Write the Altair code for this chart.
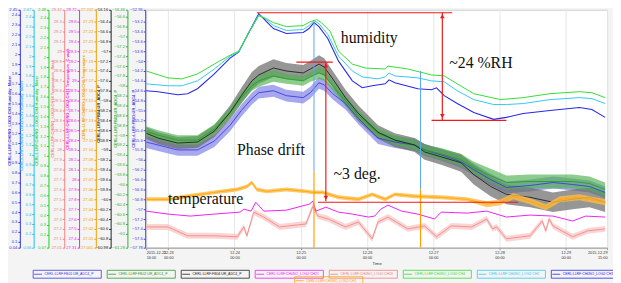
import math
import altair as alt
import pandas as pd

# ---------------- time frame ----------------
START = pd.Timestamp("2015-12-22T16:00:00Z")
END = pd.Timestamp("2015-12-29T15:00:00Z")
DAY_TICKS = ["2015-12-23", "2015-12-24", "2015-12-25", "2015-12-26",
             "2015-12-27", "2015-12-28", "2015-12-29"]

# ---------------- humidity (hours since start, value) ----------------
hum_blue_h = [0, 4.3, 11.4, 15, 18.6, 24.7, 30.4, 33.5, 37, 40.8, 43.6, 46.1, 50.8, 56.9, 59, 60.8, 62.6,
              65.8, 69.7, 74.7, 78.3, 81.9, 86.6, 88, 90.1, 98.4, 103.4, 105.2, 108, 112.7, 118.7, 125.9,
              130.5, 136.6, 146.3, 157, 161.5, 166.3]
hum_blue_v = [1.63, 1.62, 1.59, 1.60, 1.65, 1.80, 1.96, 2.02, 2.21, 2.41, 2.33, 2.26, 2.21, 2.22, 2.26, 2.32,
              2.28, 2.16, 1.93, 1.73, 1.66, 1.68, 1.70, 1.74, 1.71, 1.65, 1.64, 1.66, 1.58, 1.50, 1.41, 1.34,
              1.36, 1.40, 1.43, 1.46, 1.44, 1.36]

hum_cyan_h = [0, 7.9, 13, 18.6, 24.7, 30.4, 33.5, 37, 40.8, 43.6, 46.1, 50.8, 56.9, 59, 60.8, 62.6, 65.8,
              69.7, 74.7, 78.3, 84, 86.6, 88, 90.1, 98.4, 103.4, 108, 112.7, 118.7, 125.9, 130.5, 136.6,
              146.3, 157, 161.5, 166.3]
hum_cyan_v = [1.72, 1.70, 1.70, 1.75, 1.87, 2.00, 2.04, 2.23, 2.42, 2.37, 2.31, 2.26, 2.27, 2.31, 2.36, 2.33,
              2.22, 2.00, 1.85, 1.79, 1.77, 1.79, 1.83, 1.80, 1.78, 1.75, 1.74, 1.65, 1.56, 1.51, 1.51, 1.52,
              1.56, 1.58, 1.57, 1.52]

hum_green_h = [0, 7.9, 13, 18.6, 24.7, 30.4, 33.5, 37, 40.8, 43.6, 46.1, 50.8, 56.9, 59.5, 61.8, 63.5, 66.7,
               69.7, 74.7, 79.4, 86.6, 87.6, 94.8, 103.4, 108, 112.7, 118.7, 128.4, 136.6, 146.3, 157, 161.5,
               166.3]
hum_green_v = [1.86, 1.79, 1.78, 1.83, 1.93, 2.02, 2.06, 2.24, 2.42, 2.39, 2.35, 2.31, 2.32, 2.36, 2.38, 2.35,
               2.26, 2.06, 1.93, 1.89, 1.88, 1.91, 1.88, 1.82, 1.81, 1.73, 1.63, 1.57, 1.59, 1.63, 1.65, 1.64,
               1.59]

# ---------------- phase (deg) ----------------
phase_h = [0, 4.3, 11.4, 18.6, 24.7, 30.4, 34.5, 38.3, 40.8, 46.1, 50.8, 56.9, 59.5, 62.6, 64.5, 67.6, 72.2,
           76.9, 84, 90.1, 97.3, 100.9, 106.9, 114.1, 118.7, 124.8, 130.5, 139.1, 147.4, 154.5, 160.6, 166.3]
ph_black_v = [-58.66, -58.76, -58.86, -58.84, -58.62, -58.24, -57.90, -57.60, -57.48, -57.34, -57.40, -57.44,
              -57.36, -57.26, -57.32, -57.56, -57.94, -58.26, -58.64, -58.80, -58.90, -59.04, -59.14, -59.26,
              -59.50, -59.74, -59.90, -59.96, -60.06, -60.00, -59.96, -60.06]
ph_black_hw = [0.12, 0.12, 0.12, 0.12, 0.12, 0.14, 0.16, 0.18, 0.18, 0.18, 0.16, 0.16, 0.16, 0.18, 0.18, 0.16,
               0.16, 0.16, 0.14, 0.14, 0.14, 0.16, 0.16, 0.18, 0.20, 0.20, 0.20, 0.20, 0.20, 0.20, 0.20, 0.20]
ph_green_v = [-58.92, -59.00, -59.10, -59.10, -58.88, -58.54, -58.24, -58.00, -57.90, -57.80, -57.86, -57.90,
              -57.82, -57.74, -57.78, -58.00, -58.30, -58.60, -58.96, -59.10, -59.20, -59.30, -59.38, -59.50,
              -59.66, -59.82, -59.96, -59.94, -59.94, -59.94, -59.98, -60.10]
ph_green_hw = [0.10, 0.10, 0.10, 0.10, 0.10, 0.10, 0.10, 0.10, 0.12, 0.12, 0.10, 0.10, 0.10, 0.12, 0.12, 0.10,
               0.10, 0.10, 0.10, 0.10, 0.10, 0.10, 0.12, 0.12, 0.12, 0.14, 0.14, 0.14, 0.14, 0.14, 0.14, 0.14]
ph_blue_v = [-55.64, -55.70, -55.80, -55.80, -55.62, -55.30, -55.00, -54.76, -54.64, -54.60, -54.70, -54.74,
             -54.64, -54.44, -54.48, -54.66, -54.86, -55.16, -55.56, -55.64, -55.70, -55.80, -55.90, -56.04,
             -56.20, -56.40, -56.56, -56.52, -56.46, -56.50, -56.54, -56.66]
ph_blue_hw = [0.12, 0.12, 0.12, 0.12, 0.12, 0.12, 0.12, 0.12, 0.12, 0.12, 0.12, 0.12, 0.12, 0.12, 0.12, 0.12,
              0.12, 0.12, 0.12, 0.12, 0.12, 0.12, 0.12, 0.12, 0.12, 0.12, 0.12, 0.12, 0.12, 0.12, 0.12, 0.12]

# ---------------- temperatures ----------------
orange_h = [0, 7.9, 15, 24.7, 32.9, 36.5, 38.3, 40.1, 43.6, 50.8, 57.9, 60.4, 64, 69.7, 76.9, 81.9, 86.6,
            90.1, 97.3, 106.9, 116.2, 123.4, 128.4, 133, 139.1, 144.8, 149.9, 157, 166.3]
orange_v = [27.050, 27.050, 27.053, 27.057, 27.060, 27.063, 27.067, 27.060, 27.058, 27.060, 27.058, 27.057,
            27.057, 27.052, 27.050, 27.055, 27.050, 27.055, 27.053, 27.052, 27.050, 27.045, 27.047, 27.053,
            27.048, 27.042, 27.050, 27.052, 27.047]
orange_hw = [0.002, 0.002, 0.002, 0.002, 0.002, 0.002, 0.002, 0.002, 0.002, 0.002, 0.002, 0.002, 0.002, 0.002,
             0.002, 0.002, 0.002, 0.002, 0.002, 0.002, 0.002, 0.003, 0.003, 0.003, 0.003, 0.003, 0.003, 0.003,
             0.003]

magenta_h = [0, 7.9, 16, 24.7, 34, 35.4, 38, 39.7, 42.6, 50.8, 59, 60.4, 61.5, 65.1, 69.7, 74.7, 80.5, 82.8,
             85, 87.6, 92.6, 98.4, 104.5, 106.9, 116.2, 123.4, 130.5, 139.1, 147.4, 154.5, 159.2, 166.3]
magenta_v = [27.68, 27.65, 27.63, 27.65, 27.67, 27.70, 27.68, 27.77, 27.68, 27.69, 27.75, 27.78, 27.68, 27.72,
             27.67, 27.65, 27.62, 27.63, 27.70, 27.74, 27.68, 27.65, 27.60, 27.67, 27.66, 27.68, 27.62, 27.64,
             27.63, 27.58, 27.63, 27.62]

salmon_h = [0, 7.9, 15, 24.7, 33, 35.4, 36.5, 39, 42.6, 48.3, 57.9, 60.4, 62.2, 66, 72.2, 76.9, 81.9, 84, 87.6,
            94.8, 100.9, 105.2, 110.5, 118, 123.4, 125.5, 127, 130.5, 139.1, 143.5, 144.8, 146, 147.4, 154.5,
            160, 166.3]
salmon_v = [27.22, 27.22, 27.13, 27.13, 27.12, 27.22, 27.13, 27.37, 27.32, 27.22, 27.25, 27.43, 27.33, 27.30,
            27.22, 27.27, 27.10, 27.27, 27.32, 27.20, 27.23, 27.12, 27.23, 27.22, 27.30, 27.20, 27.22, 27.10,
            27.13, 27.28, 27.18, 27.30, 27.23, 27.12, 27.18, 27.20]
salmon_hw = [0.03, 0.03, 0.03, 0.03, 0.03, 0.03, 0.03, 0.03, 0.03, 0.03, 0.03, 0.03, 0.03, 0.03, 0.03, 0.03,
             0.03, 0.03, 0.03, 0.03, 0.03, 0.03, 0.03, 0.03, 0.03, 0.03, 0.03, 0.03, 0.03, 0.03, 0.03, 0.03,
             0.03, 0.03, 0.03, 0.03]

# ---------------- names / colours ----------------
LEG1_NAMES = ["CERL:LLRF:FB01:UR_ADC4_P", "CERL:LLRF:FB02:UR_ADC4_P", "CERL:LLRF:FB04:UR_ADC4_P",
              "CERL:LLRF:CH0NO_LOG2:CH21", "CERL:LLRF:CH0NO_LOG2:CH18", "CERL:LLRF:CH0NO_LOG2:CH4",
              "CERL:LLRF:CH0NO_LOG2:CH2", "CERL:LLRF:CH0NO_LOG2:CH3"]
LEG1_COLORS = ["#3c3cdc", "#2f9a2f", "#222222", "#f020f0", "#f08080", "#33dd33", "#33c8f0", "#2828e8"]
ORANGE_NAME = "CERL:LLRF:CH0NO_LOG2:CH1"
ORANGE_COLOR = "#ffa500"

# y axes (left to right)
AXES = {
    "hum_blue":  dict(dom=[0.04, 2.45], step=0.1, ft=".1~f", fe=".2f", color="#3030e0", off=128, ty=112,
                      tx=-10, title="CERL:LLRF:CH0NO_LOG2:CH3 Humidity_Meter"),
    "hum_cyan":  dict(dom=[0.06, 2.47], step=0.1, ft=".1~f", fe=".2f", color="#20c0f0", off=114, ty=117,
                      tx=-12, title="CERL:LLRF:CH0NO_LOG2:CH2 Humidity_Meter"),
    "hum_green": dict(dom=[0.07, 2.48], step=0.1, ft=".1~f", fe=".2f", color="#20d020", off=99, ty=112,
                      tx=-12, title="CERL:LLRF:CH0NO_LOG2:CH4 Humidity_Meter"),
    "salmon":    dict(dom=[27.01, 29.42], step=0.1, ft=".1~f", fe=".2f", color="#f08080", off=83, ty=100,
                      tx=-12, title="CERL:LLRF:CH0NO_LOG2:CH18 Temperature_Rack"),
    "magenta":   dict(dom=[27.31, 29.72], step=0.1, ft=".1~f", fe=".2f", color="#f020f0", off=68, ty=90,
                      tx=-12, title="CERL:LLRF:CH0NO_LOG2:CH21 Temperature_C.vault"),
    "orange":    dict(dom=[27.001, 27.242], step=0.01, ft=".2f", fe=".3f", color="#f0a000", off=51, ty=88,
                      tx=-12, title="CERL:LLRF:CH0NO_LOG2:CH1 Temperature"),
    "ph_black":  dict(dom=[-60.98, -56.16], step=0.2, ft=".1~f", fe=".2f", color="#222222", off=36, ty=105,
                      tx=-12, title="CERL:LLRF:FB04:UR_ADC4_P"),
    "ph_green":  dict(dom=[-61.28, -56.46], step=0.2, ft=".1~f", fe=".2f", color="#30b030", off=19, ty=110,
                      tx=-12, title="CERL:LLRF:FB02:UR_ADC4_P"),
    "ph_blue":   dict(dom=[-57.78, -52.96], step=0.2, ft=".1~f", fe=".2f", color="#4040e0", off=1, ty=110,
                      tx=-12, title="CERL:LLRF:FB01:UR_ADC4_P"),
}

# annotations (in units of the humidity-1 scale / phase-black scale), hours for x
ann_hum_rules = pd.DataFrame({"h1": [40.1, 107.3, 103.4], "h2": [110.9, 107.3, 130.5],
                              "v1": [2.42, 2.42, 1.33], "v2": [2.42, 1.33, 1.33]})
ann_ph_rules = pd.DataFrame({"h1": [54.4, 65.1, 62.2], "h2": [67.6, 65.1, 134.8],
                             "v1": [-57.22, -57.22, -60.06], "v2": [-57.22, -60.04, -60.06]})
cursor_blue = pd.DataFrame({"h1": [60.8, 99.4], "v1": [2.33, 1.83], "v2": [0.81, 0.63]})
cursor_orange = pd.DataFrame({"h1": [60.8, 99.4], "v1": [0.81, 0.63], "v2": [0.04, 0.04]})
arrow_up = pd.DataFrame({"h": [107.3], "v": [2.385], "hp": [65.1], "vp": [-57.29]})
arrow_dn = pd.DataFrame({"h": [107.3], "v": [1.375], "hp": [65.1], "vp": [-59.97]})
texts = pd.DataFrame({"h": [70.5, 109.8, 32.9, 67.9, 7.9],
                      "v": [2.16, 1.91, 1.03, 0.79, 0.53],
                      "label": ["humidity", "~24 %RH", "Phase drift", "~3 deg.", "temperature"]})


def ms(ts):
    return int(pd.Timestamp(ts).value // 10**6)


def stamp(hours):
    return [(START + pd.Timedelta(hours=float(h))).strftime("%Y-%m-%dT%H:%M:%SZ") for h in hours]


def frame(hours, vals, name, hw=None):
    d = pd.DataFrame({"t": stamp(hours), "v": vals, "series": name})
    if hw is not None:
        d["lo"] = [v - w for v, w in zip(vals, hw)]
        d["hi"] = [v + w for v, w in zip(vals, hw)]
    return d


S_MS, E_MS = ms(START), ms(END)
x_values = [S_MS] + [ms(pd.Timestamp(d, tz="UTC")) for d in DAY_TICKS] + [E_MS]
x_label = (f"(time(datum.value) == {S_MS} || time(datum.value) == {E_MS}) ? "
           "[utcFormat(datum.value, '%Y-%m-%d'), utcFormat(datum.value, '%H:%M')] : "
           "[utcFormat(datum.value, '%m-%d'), utcFormat(datum.value, '%H:%M')]")
xaxis = alt.Axis(values=x_values, labelExpr=x_label, labelFontSize=3.9, labelColor="#333333",
                 labelLineHeight=5, labelPadding=1, tickSize=2, tickColor="#999999", domainColor="#999999",
                 grid=True, gridColor="#e6e6e6", labelOverlap=False, title="Time", titleFontSize=4.3,
                 titleFontWeight="normal", titleColor="#333333", titleY=14)
XS = alt.Scale(type="utc", domain=[S_MS, E_MS])


def X(field="t"):
    return alt.X(f"{field}:T", scale=XS, axis=xaxis)


def yscale(key):
    return alt.Scale(domain=AXES[key]["dom"], zero=False, nice=False)


def yaxis(key):
    c = AXES[key]
    lo, hi = c["dom"]
    st = c["step"]
    inner = [round(k * st, 4) for k in range(math.ceil(lo / st), math.floor(hi / st) + 1)
             if lo + 0.45 * st < k * st < hi - 0.45 * st]
    vals = [lo] + inner + [hi]
    expr = (f"(abs(datum.value - ({lo})) < 1e-9 || abs(datum.value - ({hi})) < 1e-9) ? "
            f"format(datum.value, '{c['fe']}') : format(datum.value, '{c['ft']}')")
    return alt.Axis(orient="left", offset=c["off"], values=vals, labelExpr=expr, grid=False,
                    labelFontSize=4.2, labelColor=c["color"], domainColor=c["color"], tickColor=c["color"],
                    tickSize=2, labelPadding=1, labelOverlap=False, labelFlush=False,
                    title=c["title"], titleColor=c["color"], titleFontSize=4.0, titleFontWeight="bold",
                    titleAngle=270, titleX=c["tx"], titleY=c["ty"], titleAlign="center",
                    titleBaseline="middle")


# legend symbol: short line + framing box (unit path, scaled by sqrt(size)/2)
BOX_SYMBOL = "M-1,0L1,0M-1.25,-1L16.0,-1L16.0,1L-1.25,1Z"
color_js = "[" + ",".join(f"'{c}'" for c in LEG1_COLORS) + "]"
names_js = "[" + ",".join(f"'{n}'" for n in LEG1_NAMES) + "]"
legend1 = alt.Legend(
    title=None, orient="none", legendX=-114, legendY=263, direction="horizontal", columns=8,
    gridAlign="all", symbolType=BOX_SYMBOL, symbolSize=64, symbolStrokeWidth=0.8,
    symbolFillColor="transparent", labelFontSize=3.5, labelLimit=120, columnPadding=1, rowPadding=0,
    padding=0, labelOffset=2,
    labelColor={"expr": f"{color_js}[indexof({names_js}, datum.value)]"})
legend2 = alt.Legend(
    title=None, orient="none", legendX=151, legendY=270, direction="horizontal",
    symbolType=BOX_SYMBOL, symbolSize=64, symbolStrokeWidth=0.8, symbolFillColor="transparent",
    labelFontSize=3.5, labelLimit=120, padding=0, labelOffset=2, labelColor=ORANGE_COLOR)
CSCALE = alt.Scale(domain=LEG1_NAMES, range=LEG1_COLORS)
SSCALE = alt.Scale(domain=[ORANGE_NAME], range=[ORANGE_COLOR])


def band(df, key, color, opacity):
    return alt.Chart(df).mark_area(color=color, opacity=opacity, clip=True).encode(
        x=X(), y=alt.Y("lo:Q", scale=yscale(key), axis=None), y2="hi:Q")


def line(df, key, width=1.0, axis=True):
    return alt.Chart(df).mark_line(strokeWidth=width, clip=True).encode(
        x=X(), y=alt.Y("v:Q", scale=yscale(key), axis=yaxis(key) if axis else None),
        color=alt.Color("series:N", scale=CSCALE, legend=legend1))


d_hb = frame(hum_blue_h, hum_blue_v, LEG1_NAMES[7])
d_hc = frame(hum_cyan_h, hum_cyan_v, LEG1_NAMES[6])
d_hg = frame(hum_green_h, hum_green_v, LEG1_NAMES[5])
d_pk = frame(phase_h, ph_black_v, LEG1_NAMES[2], ph_black_hw)
d_pg = frame(phase_h, ph_green_v, LEG1_NAMES[1], ph_green_hw)
d_pb = frame(phase_h, ph_blue_v, LEG1_NAMES[0], ph_blue_hw)
d_or = frame(orange_h, orange_v, ORANGE_NAME, orange_hw)
d_mg = frame(magenta_h, magenta_v, LEG1_NAMES[3])
d_sa = frame(salmon_h, salmon_v, LEG1_NAMES[4], salmon_hw)

layers = [
    line(d_hb, "hum_blue", 1.1),
    line(d_hc, "hum_cyan", 1.0),
    line(d_hg, "hum_green", 1.0),
    band(d_sa, "salmon", "#f9c6c6", 0.75),
    line(d_sa, "salmon", 0.8),
    line(d_mg, "magenta", 1.0),
    band(d_pb, "ph_blue", "#7a7ae6", 0.65),
    band(d_pk, "ph_black", "#6a6a6a", 0.7),
    band(d_pg, "ph_green", "#4fb04f", 0.65),
    line(d_pb, "ph_blue", 0.9),
    line(d_pg, "ph_green", 0.9),
    line(d_pk, "ph_black", 0.9),
    band(d_or, "orange", "#ffbb44", 0.8),
    alt.Chart(d_or).mark_line(strokeWidth=0.9, clip=True).encode(
        x=X(), y=alt.Y("v:Q", scale=yscale("orange"), axis=yaxis("orange")),
        stroke=alt.Stroke("series:N", scale=SSCALE, legend=legend2)),
]

# annotations
ann_hum_rules["t1"] = stamp(ann_hum_rules["h1"]); ann_hum_rules["t2"] = stamp(ann_hum_rules["h2"])
ann_ph_rules["t1"] = stamp(ann_ph_rules["h1"]); ann_ph_rules["t2"] = stamp(ann_ph_rules["h2"])
cursor_blue["t1"] = stamp(cursor_blue["h1"]); cursor_orange["t1"] = stamp(cursor_orange["h1"])
arrow_up["t"] = stamp(arrow_up["h"]); arrow_up["tp"] = stamp(arrow_up["hp"])
arrow_dn["t"] = stamp(arrow_dn["h"]); arrow_dn["tp"] = stamp(arrow_dn["hp"])
texts["t"] = stamp(texts["h"])

RED = "#f01818"
layers += [
    alt.Chart(cursor_blue).mark_rule(color="#5aa8f0", strokeWidth=1).encode(
        x=X("t1"), y=alt.Y("v1:Q", scale=yscale("hum_blue"), axis=None), y2="v2:Q"),
    alt.Chart(cursor_orange).mark_rule(color="#ffa000", strokeWidth=1.2).encode(
        x=X("t1"), y=alt.Y("v1:Q", scale=yscale("hum_blue"), axis=None), y2="v2:Q"),
    alt.Chart(ann_hum_rules).mark_rule(color=RED, strokeWidth=1.2).encode(
        x=X("t1"), x2="t2:T", y=alt.Y("v1:Q", scale=yscale("hum_blue"), axis=None), y2="v2:Q"),
    alt.Chart(ann_ph_rules).mark_rule(color=RED, strokeWidth=1.2).encode(
        x=X("t1"), x2="t2:T", y=alt.Y("v1:Q", scale=yscale("ph_black"), axis=None), y2="v2:Q"),
    alt.Chart(arrow_up).mark_point(shape="triangle-up", filled=True, size=22, color=RED, opacity=1).encode(
        x=X("t"), y=alt.Y("v:Q", scale=yscale("hum_blue"), axis=None)),
    alt.Chart(arrow_dn).mark_point(shape="triangle-down", filled=True, size=22, color=RED, opacity=1).encode(
        x=X("t"), y=alt.Y("v:Q", scale=yscale("hum_blue"), axis=None)),
    alt.Chart(arrow_up).mark_point(shape="triangle-up", filled=True, size=22, color=RED, opacity=1).encode(
        x=X("tp"), y=alt.Y("vp:Q", scale=yscale("ph_black"), axis=None)),
    alt.Chart(arrow_dn).mark_point(shape="triangle-down", filled=True, size=22, color=RED, opacity=1).encode(
        x=X("tp"), y=alt.Y("vp:Q", scale=yscale("ph_black"), axis=None)),
    alt.Chart(texts).mark_text(font="Liberation Serif", fontSize=16, align="left", baseline="middle",
                               color="#111111").encode(
        x=X("t"), y=alt.Y("v:Q", scale=yscale("hum_blue"), axis=None), text="label:N"),
]

chart = alt.layer(*layers).resolve_scale(y="independent").properties(
    width=467, height=241,
    autosize=alt.AutoSizeParams(type="none"),
    padding={"left": 140, "top": 0, "right": 6, "bottom": 34},
).configure(background="#f4f4f4").configure_view(fill="white", stroke="#d0d0d0")

chart.save("out.html", embed_options={"renderer": "svg", "actions": False})
